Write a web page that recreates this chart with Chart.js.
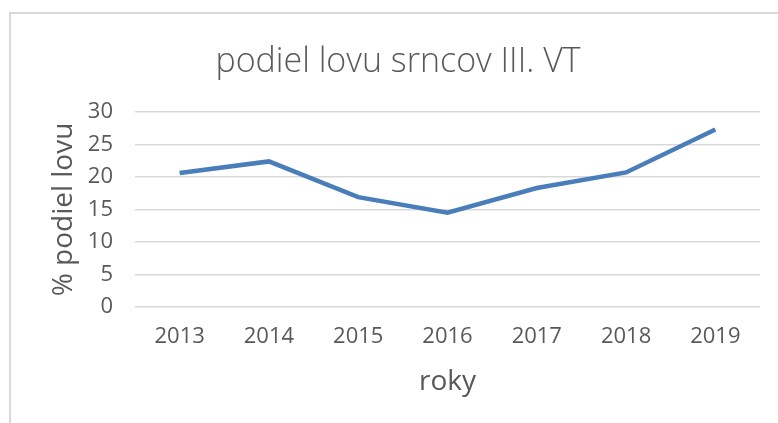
<!DOCTYPE html>
<html>
<head>
<meta charset="utf-8">
<script src="https://cdn.jsdelivr.net/npm/chart.js@4"></script>
<style>
  html, body { margin: 0; padding: 0; background: #fff; }
  #wrap { position: relative; width: 778px; height: 423px; overflow: hidden; }
  #frame { position: absolute; left: 9px; top: 12px; width: 800px; height: 450px; border-top: 2px solid #d9d9d9; border-left: 2px solid #d9d9d9; box-sizing: border-box; }
  canvas { position: absolute; left: 0; top: 0; }
</style>
</head>
<body>
<div id="wrap">
  <div id="frame"></div>
  <canvas id="chart" width="778" height="423"></canvas>
</div>
<script>
// --- data ---
const years = ['2013', '2014', '2015', '2016', '2017', '2018', '2019'];
const share = [20.6, 22.4, 16.9, 14.5, 18.3, 20.7, 27.3];
const yTicks = [0, 5, 10, 15, 20, 25, 30];

const textColor = '#595959';
const fontFam = "'Open Sans', sans-serif";

const ctx = document.getElementById('chart').getContext('2d');
const chart = new Chart(ctx, {
    type: 'line',
    data: {
        labels: years,
        datasets: [{
            label: 'podiel lovu',
            data: share,
            borderColor: '#4a7ebb',
            borderWidth: 4.5,
            pointRadius: 0,
            tension: 0,
            fill: false
        }]
    },
    options: {
        responsive: false,
        animation: false,
        // left padding keeps the title centred like the original
        layout: { padding: { top: 41.6, left: 36, right: 18, bottom: 0 } },
        plugins: {
            legend: { display: false },
            tooltip: { enabled: false },
            title: {
                display: true,
                text: 'podiel lovu srncov III. VT',
                color: textColor,
                font: { family: fontFam, size: 34, weight: '300' },
                padding: { top: 0, bottom: 29.6 }
            }
        },
        scales: {
            x: {
                offset: true,
                afterFit: s => { s.height = 116; },
                grid: { display: false, drawTicks: false },
                border: { display: false },
                ticks: { color: textColor, font: { family: fontFam, size: 22 }, padding: 17, maxRotation: 0 },
                title: { display: true, text: 'roky', color: textColor, font: { family: fontFam, size: 28 }, padding: { bottom: 24 } }
            },
            y: {
                min: 0,
                max: 30,
                afterBuildTicks: s => { s.ticks = yTicks.map(v => ({ value: v })); },
                afterFit: s => { s.width = 99; },
                grid: { color: '#d9d9d9', lineWidth: 1.5, drawTicks: false },
                border: { display: false },
                ticks: { color: textColor, font: { family: fontFam, size: 22 }, padding: 22 },
                title: { display: true, text: '% podiel lovu', color: textColor, font: { family: fontFam, size: 28 }, padding: { top: 11 } }
            }
        }
    }
});
</script>
</body>
</html>
